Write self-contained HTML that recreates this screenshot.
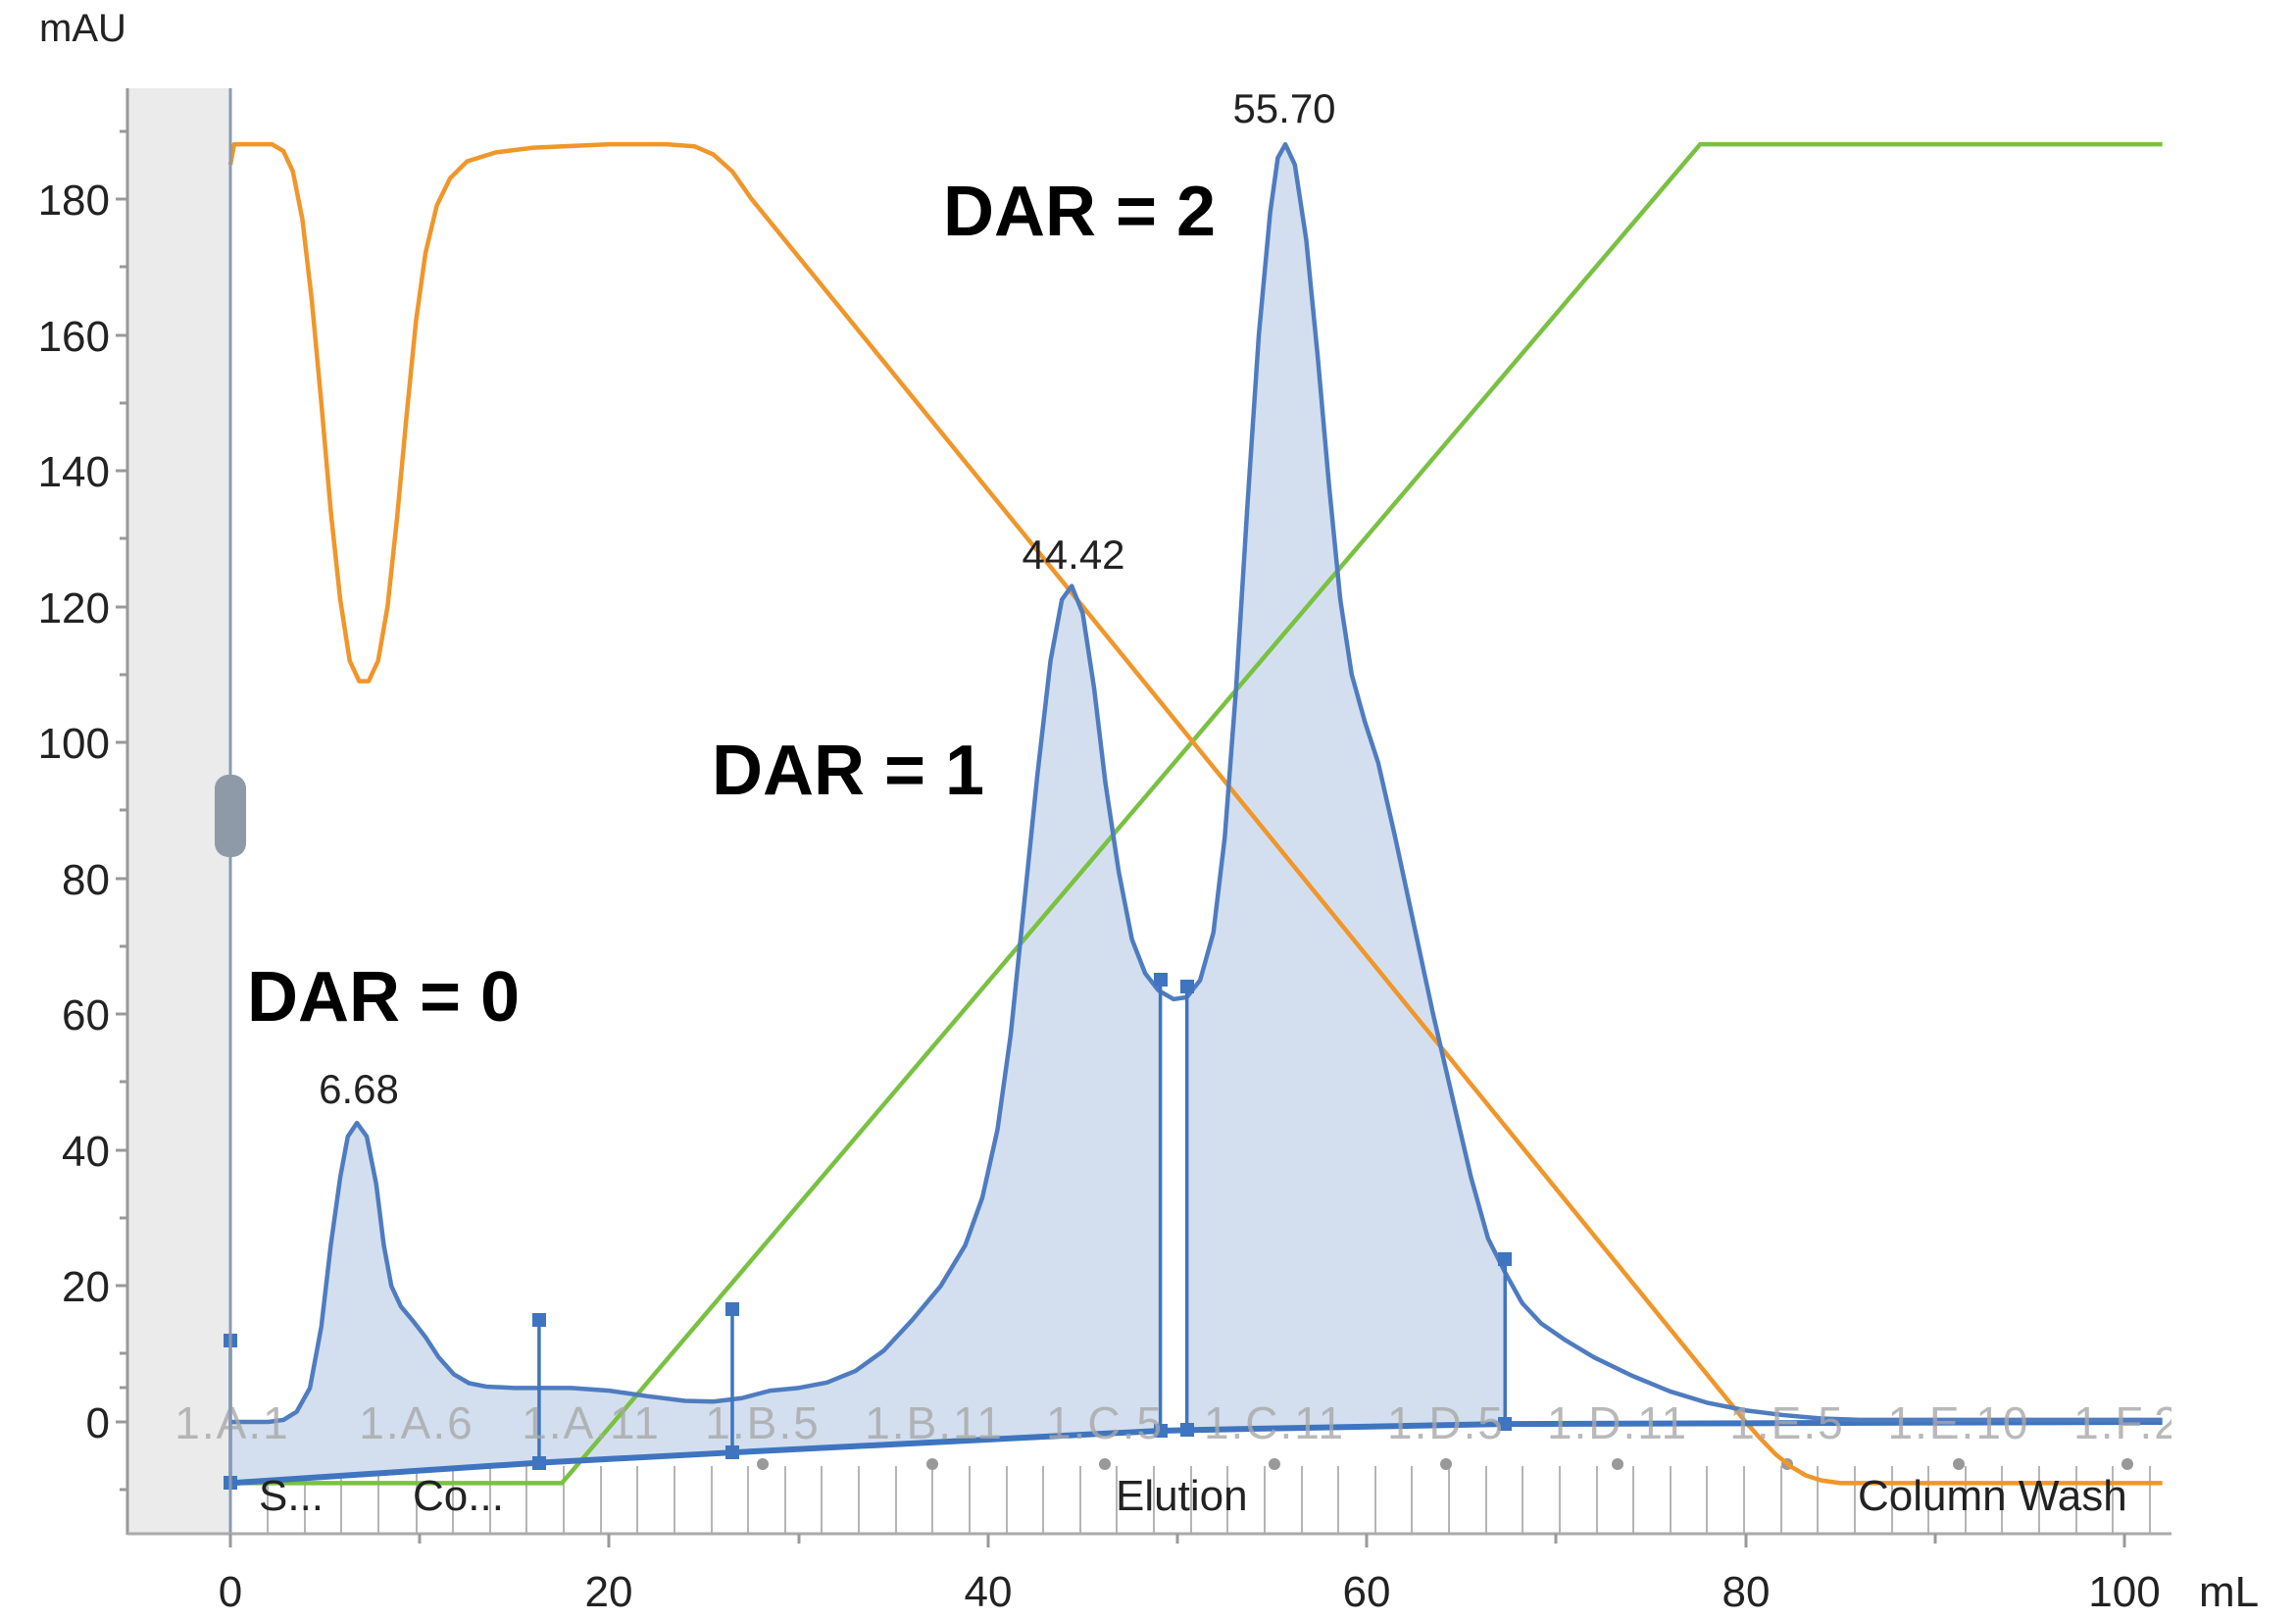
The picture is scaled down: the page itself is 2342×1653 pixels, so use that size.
<!DOCTYPE html>
<html><head><meta charset="utf-8"><style>
html,body{margin:0;padding:0;background:#fff;}
svg{display:block;}
text{font-family:"Liberation Sans",sans-serif;}
</style></head><body>
<svg width="2342" height="1653" viewBox="0 0 2342 1653" xmlns="http://www.w3.org/2000/svg">
<defs><clipPath id="pc"><rect x="130" y="90" width="2085" height="1474"/></clipPath></defs>
<rect x="130" y="90" width="105" height="1474" fill="#ebebeb"/>
<!-- fraction tick marks -->
<g stroke="#b5b5b5" stroke-width="2">
<line x1="273" y1="1495" x2="273" y2="1563"/><line x1="311" y1="1495" x2="311" y2="1563"/><line x1="348" y1="1495" x2="348" y2="1563"/><line x1="386" y1="1495" x2="386" y2="1563"/><line x1="425" y1="1495" x2="425" y2="1563"/><line x1="462" y1="1495" x2="462" y2="1563"/><line x1="500" y1="1495" x2="500" y2="1563"/><line x1="537" y1="1495" x2="537" y2="1563"/><line x1="575" y1="1495" x2="575" y2="1563"/><line x1="613" y1="1495" x2="613" y2="1563"/><line x1="650" y1="1495" x2="650" y2="1563"/><line x1="688" y1="1495" x2="688" y2="1563"/><line x1="726" y1="1495" x2="726" y2="1563"/><line x1="763" y1="1495" x2="763" y2="1563"/><line x1="801" y1="1495" x2="801" y2="1563"/><line x1="838" y1="1495" x2="838" y2="1563"/><line x1="876" y1="1495" x2="876" y2="1563"/><line x1="914" y1="1495" x2="914" y2="1563"/><line x1="951" y1="1495" x2="951" y2="1563"/><line x1="989" y1="1495" x2="989" y2="1563"/><line x1="1027" y1="1495" x2="1027" y2="1563"/><line x1="1064" y1="1495" x2="1064" y2="1563"/><line x1="1102" y1="1495" x2="1102" y2="1563"/><line x1="1139" y1="1495" x2="1139" y2="1563"/><line x1="1177" y1="1495" x2="1177" y2="1563"/><line x1="1215" y1="1495" x2="1215" y2="1563"/><line x1="1252" y1="1495" x2="1252" y2="1563"/><line x1="1290" y1="1495" x2="1290" y2="1563"/><line x1="1328" y1="1495" x2="1328" y2="1563"/><line x1="1365" y1="1495" x2="1365" y2="1563"/><line x1="1403" y1="1495" x2="1403" y2="1563"/><line x1="1440" y1="1495" x2="1440" y2="1563"/><line x1="1478" y1="1495" x2="1478" y2="1563"/><line x1="1516" y1="1495" x2="1516" y2="1563"/><line x1="1553" y1="1495" x2="1553" y2="1563"/><line x1="1591" y1="1495" x2="1591" y2="1563"/><line x1="1629" y1="1495" x2="1629" y2="1563"/><line x1="1666" y1="1495" x2="1666" y2="1563"/><line x1="1704" y1="1495" x2="1704" y2="1563"/><line x1="1741" y1="1495" x2="1741" y2="1563"/><line x1="1779" y1="1495" x2="1779" y2="1563"/><line x1="1817" y1="1495" x2="1817" y2="1563"/><line x1="1854" y1="1495" x2="1854" y2="1563"/><line x1="1892" y1="1495" x2="1892" y2="1563"/><line x1="1930" y1="1495" x2="1930" y2="1563"/><line x1="1967" y1="1495" x2="1967" y2="1563"/><line x1="2005" y1="1495" x2="2005" y2="1563"/><line x1="2042" y1="1495" x2="2042" y2="1563"/><line x1="2080" y1="1495" x2="2080" y2="1563"/><line x1="2118" y1="1495" x2="2118" y2="1563"/><line x1="2155" y1="1495" x2="2155" y2="1563"/><line x1="2193" y1="1495" x2="2193" y2="1563"/>
</g>
<g fill="#999">
<circle cx="425" cy="1493" r="6"/><circle cx="778" cy="1493" r="6"/><circle cx="951" cy="1493" r="6"/><circle cx="1127" cy="1493" r="6"/><circle cx="1300" cy="1493" r="6"/><circle cx="1475" cy="1493" r="6"/><circle cx="1650" cy="1493" r="6"/><circle cx="1823" cy="1493" r="6"/><circle cx="1998" cy="1493" r="6"/><circle cx="2170" cy="1493" r="6"/>
</g>
<g clip-path="url(#pc)">
<g transform="translate(235,1450) scale(19.32,-6.93)">
<polygon fill="#d3dfee" points="0,0 1,0 2,0 2.8,0.3 3.5,1.5 4.2,5 4.8,14 5.3,26 5.8,36 6.2,42 6.68,44 7.2,42 7.7,35 8.1,26 8.5,20 9,17 9.6,15 10.3,12.5 11,9.5 11.8,7 12.6,5.7 13.5,5.2 15,5 18,5 20,4.6 22,3.8 24,3.1 25.5,3 27,3.5 28.5,4.6 30,5 31.5,5.8 33,7.5 34.5,10.5 36,15 37.5,20 38.8,26 39.7,33 40.5,43 41.2,57 41.9,76 42.6,95 43.3,112 43.9,121 44.42,123 45,119 45.6,108 46.2,94 46.9,81 47.6,71 48.3,66 49.1,64 49.1,-1.3 26.5,-4.5 16.3,-6 0,-9"/>
<polygon fill="#d3dfee" points="50.5,62.5 51.2,65 51.9,72 52.5,86 53.1,108 53.7,135 54.3,160 54.9,178 55.3,186 55.7,188 56.2,185 56.8,174 57.4,157 58,138 58.6,121 59.2,110 59.9,103 60.6,97 61.5,86 62.5,73 63.5,60 64.5,48 65.5,36 66.4,27 67.3,22 67.3,-0.3 50.5,-1.2"/>
<polyline fill="none" stroke="#7ac142" stroke-width="4.5" vector-effect="non-scaling-stroke" points="0,-9 17.5,-9 77.6,188 102,188"/>
<polyline fill="none" stroke="#f0962a" stroke-width="4.5" vector-effect="non-scaling-stroke" stroke-linejoin="round" points="0,185 0.2,188 1,188 2.2,188 2.8,187 3.3,184 3.8,177 4.3,165 4.8,150 5.3,134 5.8,121 6.3,112 6.8,109 7.3,109 7.8,112 8.3,120 8.8,133 9.3,148 9.8,162 10.3,172 10.9,179 11.6,183 12.5,185.5 14,186.8 16,187.5 20,188 23,188 24.5,187.7 25.5,186.5 26.5,184 27.5,180 80,0 80.8,-2.5 81.6,-4.8 82.4,-6.6 83.2,-7.9 84,-8.6 85,-9 102,-9"/>
<polyline fill="none" stroke="#3f74c0" stroke-width="6" vector-effect="non-scaling-stroke" points="0,-9 16.3,-6 26.5,-4.5 49.1,-1.3 50.5,-1.2 67.3,-0.3 102,0"/>
<polyline fill="none" stroke="#4f7cc0" stroke-width="4.5" vector-effect="non-scaling-stroke" stroke-linejoin="round" points="0,0 1,0 2,0 2.8,0.3 3.5,1.5 4.2,5 4.8,14 5.3,26 5.8,36 6.2,42 6.68,44 7.2,42 7.7,35 8.1,26 8.5,20 9,17 9.6,15 10.3,12.5 11,9.5 11.8,7 12.6,5.7 13.5,5.2 15,5 18,5 20,4.6 22,3.8 24,3.1 25.5,3 27,3.5 28.5,4.6 30,5 31.5,5.8 33,7.5 34.5,10.5 36,15 37.5,20 38.8,26 39.7,33 40.5,43 41.2,57 41.9,76 42.6,95 43.3,112 43.9,121 44.42,123 45,119 45.6,108 46.2,94 46.9,81 47.6,71 48.3,66 49,63.5 49.8,62.2 50.5,62.5 51.2,65 51.9,72 52.5,86 53.1,108 53.7,135 54.3,160 54.9,178 55.3,186 55.7,188 56.2,185 56.8,174 57.4,157 58,138 58.6,121 59.2,110 59.9,103 60.6,97 61.5,86 62.5,73 63.5,60 64.5,48 65.5,36 66.4,27 67.3,22 68.2,17.5 69.2,14.5 70.5,12 72,9.5 74,6.8 76,4.5 78,2.8 80,1.7 82,1 84,0.5 86,0.3 102,0.3"/>
<g stroke="#3f74c0">
<line x1="0" y1="-9" x2="0" y2="12" stroke-width="3.5" vector-effect="non-scaling-stroke"/>
<line x1="16.3" y1="-6" x2="16.3" y2="15" stroke-width="3.5" vector-effect="non-scaling-stroke"/>
<line x1="26.5" y1="-4.5" x2="26.5" y2="16.5" stroke-width="3.5" vector-effect="non-scaling-stroke"/>
<line x1="49.1" y1="-1.3" x2="49.1" y2="65" stroke-width="3.5" vector-effect="non-scaling-stroke"/>
<line x1="50.5" y1="-1.2" x2="50.5" y2="64" stroke-width="3.5" vector-effect="non-scaling-stroke"/>
<line x1="67.3" y1="-0.3" x2="67.3" y2="24" stroke-width="3.5" vector-effect="non-scaling-stroke"/>
</g>
</g>
<g fill="#3f74c0">
<rect x="228" y="1360" width="14" height="14"/><rect x="228" y="1505" width="14" height="14"/>
<rect x="543" y="1339" width="14" height="14"/><rect x="543" y="1485" width="14" height="14"/>
<rect x="740" y="1328" width="14" height="14"/><rect x="740" y="1474" width="14" height="14"/>
<rect x="1177" y="992" width="14" height="14"/><rect x="1177" y="1452" width="14" height="14"/>
<rect x="1204" y="999" width="14" height="14"/><rect x="1204" y="1451" width="14" height="14"/>
<rect x="1528" y="1277" width="14" height="14"/><rect x="1528" y="1445" width="14" height="14"/>
</g>
<g fill="#a8a8a8" fill-opacity="0.8" font-size="46" text-anchor="middle" letter-spacing="2">
<text x="237" y="1467">1.A.1</text><text x="425" y="1467">1.A.6</text><text x="603" y="1467">1.A.11</text>
<text x="778" y="1467">1.B.5</text><text x="953" y="1467">1.B.11</text><text x="1127" y="1467">1.C.5</text>
<text x="1300" y="1467">1.C.11</text><text x="1475" y="1467">1.D.5</text><text x="1650" y="1467">1.D.11</text>
<text x="1823" y="1467">1.E.5</text><text x="1998" y="1467">1.E.10</text><text x="2170" y="1467">1.F.2</text>
</g>
<g fill="#222" font-size="44">
<text x="264" y="1540">S...</text><text x="421" y="1540">Co...</text>
<text x="1138" y="1540">Elution</text><text x="1895" y="1540">Column Wash</text>
</g>
</g>
<line x1="235" y1="90" x2="235" y2="1564" stroke="#8a9ab0" stroke-width="3"/>
<line x1="130" y1="90" x2="130" y2="1565" stroke="#999" stroke-width="3"/>
<line x1="130" y1="1564" x2="2215" y2="1564" stroke="#aaa" stroke-width="3"/>
<rect x="219" y="790" width="32" height="84" rx="14" fill="#8e9aa8"/>
<g stroke="#999" stroke-width="3">
<line x1="118" y1="1450" x2="130" y2="1450"/><line x1="122" y1="1415" x2="130" y2="1415"/>
<line x1="118" y1="1311" x2="130" y2="1311"/><line x1="122" y1="1242" x2="130" y2="1242"/>
<line x1="118" y1="1173" x2="130" y2="1173"/><line x1="122" y1="1103" x2="130" y2="1103"/>
<line x1="118" y1="1034" x2="130" y2="1034"/><line x1="122" y1="965" x2="130" y2="965"/>
<line x1="118" y1="896" x2="130" y2="896"/><line x1="122" y1="826" x2="130" y2="826"/>
<line x1="118" y1="757" x2="130" y2="757"/><line x1="122" y1="688" x2="130" y2="688"/>
<line x1="118" y1="619" x2="130" y2="619"/><line x1="122" y1="549" x2="130" y2="549"/>
<line x1="118" y1="480" x2="130" y2="480"/><line x1="122" y1="411" x2="130" y2="411"/>
<line x1="118" y1="342" x2="130" y2="342"/><line x1="122" y1="272" x2="130" y2="272"/>
<line x1="118" y1="203" x2="130" y2="203"/><line x1="122" y1="134" x2="130" y2="134"/>
<line x1="122" y1="1380" x2="130" y2="1380"/><line x1="122" y1="1519" x2="130" y2="1519"/>
</g>
<g stroke="#999" stroke-width="3">
<line x1="235" y1="1564" x2="235" y2="1578"/><line x1="428" y1="1564" x2="428" y2="1574"/>
<line x1="621" y1="1564" x2="621" y2="1578"/><line x1="815" y1="1564" x2="815" y2="1574"/>
<line x1="1008" y1="1564" x2="1008" y2="1578"/><line x1="1201" y1="1564" x2="1201" y2="1574"/>
<line x1="1394" y1="1564" x2="1394" y2="1578"/><line x1="1587" y1="1564" x2="1587" y2="1574"/>
<line x1="1781" y1="1564" x2="1781" y2="1578"/><line x1="1974" y1="1564" x2="1974" y2="1574"/>
<line x1="2167" y1="1564" x2="2167" y2="1578"/>
</g>
<g fill="#222" font-size="44" text-anchor="end">
<text x="112" y="1466">0</text><text x="112" y="1327">20</text><text x="112" y="1189">40</text>
<text x="112" y="1050">60</text><text x="112" y="912">80</text><text x="112" y="773">100</text>
<text x="112" y="635">120</text><text x="112" y="496">140</text><text x="112" y="358">160</text>
<text x="112" y="219">180</text>
</g>
<g fill="#222" font-size="44" text-anchor="middle">
<text x="235" y="1638">0</text><text x="621" y="1638">20</text><text x="1008" y="1638">40</text>
<text x="1394" y="1638">60</text><text x="1781" y="1638">80</text><text x="2167" y="1638">100</text>
</g>
<text x="2243" y="1638" font-size="44" fill="#222">mL</text>
<text x="40" y="42" font-size="40" fill="#222">mAU</text>
<g fill="#222" font-size="42" text-anchor="middle">
<text x="1310" y="125">55.70</text><text x="1095" y="580">44.42</text><text x="366" y="1125">6.68</text>
</g>
<g fill="#000" font-size="72" font-weight="bold">
<text x="962" y="240">DAR = 2</text><text x="726" y="810">DAR = 1</text><text x="252" y="1041">DAR = 0</text>
</g>
</svg>
</body></html>
